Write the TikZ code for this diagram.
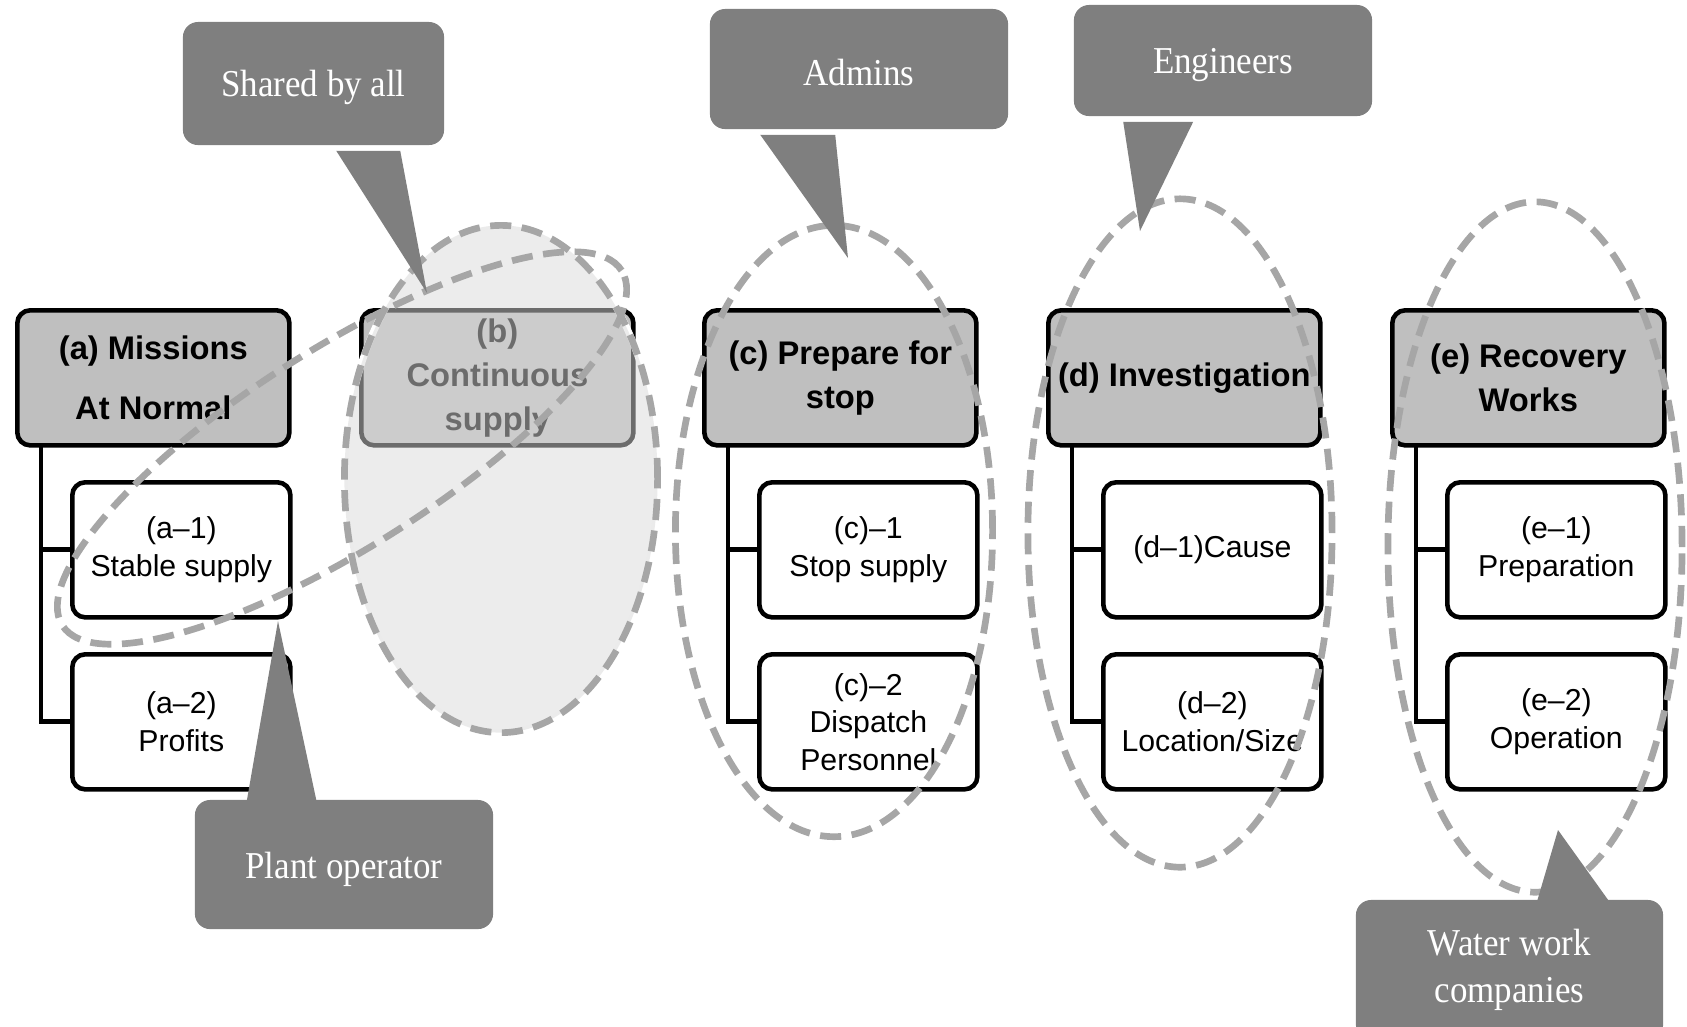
\documentclass[tikz,border=0pt]{standalone}
\usepackage{fontspec}
\setmainfont{Liberation Sans}
\newfontfamily\calloutfont[FakeStretch=0.92]{Liberation Serif}
\usetikzlibrary{shapes.geometric,calc}
\definecolor{hdrgray}{HTML}{BFBFBF}
\definecolor{dashgray}{HTML}{A6A6A6}
\definecolor{callgray}{HTML}{7F7F7F}
\definecolor{bfillgray}{HTML}{D9D9D9}
\begin{document}
\begin{tikzpicture}[x=0.01cm, y=-0.01cm,
  hdr/.style={draw=black, line width=1.3pt, fill=hdrgray, rounded corners=3.7pt,
    minimum width=2.72cm, minimum height=1.35cm, inner sep=0pt, anchor=north west,
    align=center, font=\bfseries\fontsize{9.3}{12.5}\selectfont},
  sub/.style={draw=black, line width=1.3pt, fill=white, rounded corners=3.7pt,
    minimum width=2.18cm, minimum height=1.35cm, inner sep=0pt, anchor=north west,
    align=center, font=\fontsize{8.6}{10.7}\selectfont},
  tree/.style={draw=black, line width=1.4pt},
  grp/.style={ellipse, draw=dashgray, line width=1.9pt, dash pattern=on 6pt off 3pt, inner sep=0pt},
  callout/.style={fill=callgray, rounded corners=4.3pt, inner sep=0pt},
  calltext/.style={inner sep=0pt, text=white, align=center,
    font=\calloutfont\fontsize{10.8}{12.8}\selectfont},
  pointer/.style={fill=callgray}
]
\useasboundingbox (0,0) rectangle (1687,1026);

% ---------- header boxes ----------
\node[hdr] (hA) at (15,308)  {(a) Missions\\[4.5pt]At Normal};
\node[hdr] (hB) at (359,308) {(b)\\Continuous\\supply};
\node[hdr] (hC) at (702,308) {(c) Prepare for\\stop};
\node[hdr] (hD) at (1046,308) {(d) Investigation};
\node[hdr] (hE) at (1390,308) {(e) Recovery\\Works};

% ---------- sub boxes ----------
\node[sub] (a1) at (70,480)  {(a–1)\\Stable supply};
\node[sub] (a2) at (70,652)  {(a–2)\\Profits};
\node[sub] (c1) at (757,480) {(c)–1\\Stop supply};
\node[sub] (c2) at (757,652) {(c)–2\\Dispatch\\Personnel};
\node[sub] (d1) at (1101,480) {(d–1)Cause};
\node[sub] (d2) at (1101,652) {(d–2)\\Location/Size};
\node[sub] (e1) at (1445,480) {(e–1)\\Preparation};
\node[sub] (e2) at (1445,652) {(e–2)\\Operation};

% ---------- tree connectors ----------
\coordinate (tA) at (41,443);
\coordinate (tC) at (728,443);
\coordinate (tD) at (1072,443);
\coordinate (tE) at (1416,443);
\foreach \t/\p/\q in {tA/a1/a2, tC/c1/c2, tD/d1/d2, tE/e1/e2}{
  \draw[tree] (\t) |- (\q.west);
  \draw[tree] (\t |- \p.west) -- (\p.west);
}

% ---------- group ellipses ----------
\node[grp, fill=bfillgray, fill opacity=0.5,
      preaction={draw=white, solid, line width=2pt},
      minimum width=3.13cm, minimum height=5.07cm] (eB) at (501,479) {};
\node[grp, rotate=32.4, minimum width=6.62cm, minimum height=1.98cm] (eAll) at (342,448) {};
\node[grp, minimum width=3.17cm, minimum height=6.11cm] (eC) at (834,531) {};
\node[grp, minimum width=3.04cm, minimum height=6.68cm] (eD) at (1180,533) {};
\node[grp, minimum width=2.94cm, minimum height=6.90cm] (eE) at (1535,547) {};

% ---------- callouts ----------
\node[callout, minimum width=2.61cm, minimum height=1.23cm] (cShared) at (313.5,83.5) {};
\node[calltext] (tShared) at ($(cShared.center)+(0,4)$) {Shared by all};
\coordinate (pShared) at (427,293);
\fill[pointer] ($(cShared.south west)+(154,5)$) -- (pShared) -- ($(cShared.south west)+(218,5)$) -- cycle;

\node[callout, minimum width=2.98cm, minimum height=1.20cm] (cAdmins) at (859,69) {};
\node[calltext] (tAdmins) at ($(cAdmins.center)+(0,3)$) {Admins};
\coordinate (pAdmins) at (848,258);
\fill[pointer] ($(cAdmins.south west)+(51,5)$) -- (pAdmins) -- ($(cAdmins.south west)+(126,5)$) -- cycle;

\node[callout, minimum width=2.98cm, minimum height=1.11cm] (cEng) at (1223,60.5) {};
\node[calltext] (tEng) at ($(cEng.center)+(0,5)$) {Engineers};
\coordinate (pEng) at (1140,231);
\fill[pointer] ($(cEng.south west)+(50,5)$) -- (pEng) -- ($(cEng.south west)+(120,5)$) -- cycle;

\node[callout, minimum width=2.98cm, minimum height=1.29cm] (cPlant) at (344,864.5) {};
\node[calltext] (tPlant) at ($(cPlant.center)+(0,5)$) {Plant operator};
\coordinate (pPlant) at (278,621);
\fill[pointer] ($(cPlant.north west)+(52,5)$) -- (pPlant) -- ($(cPlant.north west)+(123,5)$) -- cycle;

\node[callout, minimum width=3.07cm, minimum height=1.40cm] (cWater) at (1509.5,970) {};
\node[calltext, font=\calloutfont\fontsize{10.8}{13.4}\selectfont] (tWater) at ($(cWater.center)+(0,0)$) {Water work\\companies};
\coordinate (pWater) at (1558,830);
\fill[pointer] ($(cWater.north west)+(181,5)$) -- (pWater) -- ($(cWater.north west)+(256,5)$) -- cycle;
\end{tikzpicture}
\end{document}
